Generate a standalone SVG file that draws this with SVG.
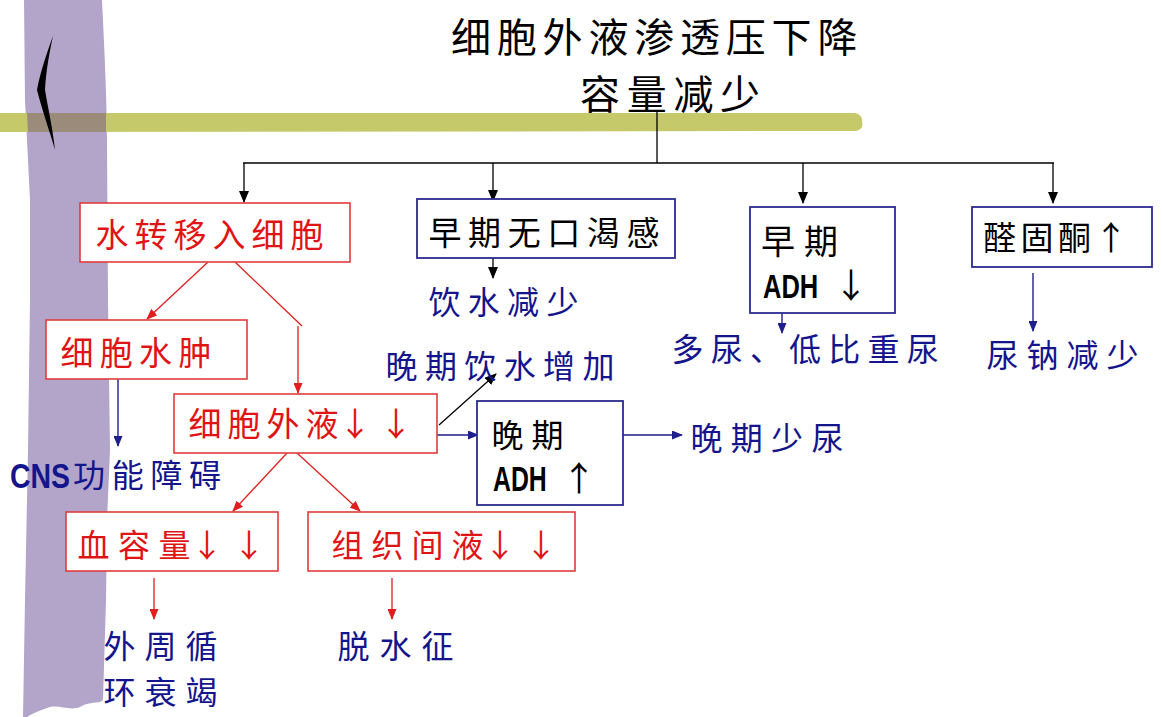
<svg xmlns="http://www.w3.org/2000/svg" width="1162" height="717" viewBox="0 0 1162 717">
<style>
.cjk{font-family:"Noto Sans CJK SC","Noto Sans CJK TC",sans-serif;}
.lat{font-family:"Liberation Sans","Noto Sans",sans-serif;font-weight:bold;}
.arw{font-family:"Noto Sans CJK SC","Noto Sans CJK TC",sans-serif;text-anchor:middle;}
.blk{fill:#000;}
.red{fill:#e01414;}
.nav{fill:#14148c;}
.rbox{fill:#fff;stroke:#e03c3c;stroke-width:1.6;}
.nbox{fill:#fff;stroke:#2b2b8f;stroke-width:1.8;}
.cb{stroke:#000;fill:none;stroke-width:1.3;}
.cr{stroke:#e01e1e;fill:none;stroke-width:1.3;}
.cn{stroke:#1e1e8c;fill:none;stroke-width:1.4;}
</style>
<defs>
<marker id="mb" markerUnits="userSpaceOnUse" markerWidth="12" markerHeight="10" refX="11" refY="5" orient="auto"><path d="M0,0 L12,5 L0,10 z" fill="#000"/></marker>
<marker id="mr" markerUnits="userSpaceOnUse" markerWidth="11" markerHeight="9" refX="10" refY="4.5" orient="auto"><path d="M0,0 L11,4.5 L0,9 z" fill="#e01e1e"/></marker>
<marker id="mn" markerUnits="userSpaceOnUse" markerWidth="11" markerHeight="9" refX="10" refY="4.5" orient="auto"><path d="M0,0 L11,4.5 L0,9 z" fill="#1e1e8c"/></marker>
</defs>

<g id="background">
<path d="M24,0 L102,0 C104,40 107,100 107,140 L108,300 L110,450 L107,520 L106,600 L103,700 L100,702 C90,703 85,704 80,707 C70,711 60,705 50,707 C40,710 32,714 27,717 L23,717 L25,600 L28,450 L30,300 L30,200 L25,100 Z" fill="#b3a4c9"/>
<path d="M0,113 L855,113 C860,114 863,118 862,122 C864,127 860,131 855,131 L0,132 Z" fill="#c6c96a"/>
<path d="M27,113 H106 V132 H28 Z" fill="#9a8b7a"/>
<path d="M53,36 C48,50 40,72 37,90 C42,110 50,132 55,150 C53,130 48,108 45,90 C46,70 50,50 53,36 Z" fill="#000"/>
</g>

<g id="title">
<text class="cjk blk" x="451" y="52" font-size="40" letter-spacing="5.8">细胞外液渗透压下降</text>
<text class="cjk blk" x="580" y="109" font-size="40" letter-spacing="6.7">容量减少</text>
</g>

<g id="connectors">
<path class="cb" d="M657,112 V163"/>
<path class="cb" stroke-width="2" d="M243,163 H1054"/>
<path class="cb" d="M244,163 V202" marker-end="url(#mb)"/>
<path class="cb" d="M493,163 V201" marker-end="url(#mb)"/>
<path class="cb" d="M803,163 V203" marker-end="url(#mb)"/>
<path class="cb" d="M1053,163 V203" marker-end="url(#mb)"/>
<path class="cb" d="M493,258 V278" marker-end="url(#mb)"/>
<path class="cb" d="M439,425 L496,374" marker-end="url(#mb)"/>
<path class="cr" d="M208,262 L147,319" marker-end="url(#mr)"/>
<path class="cr" d="M235,262 L302,326"/>
<path class="cr" d="M298,326 V393" marker-end="url(#mr)"/>
<path class="cr" d="M287,453 L233,511" marker-end="url(#mr)"/>
<path class="cr" d="M297,453 L360,511" marker-end="url(#mr)"/>
<path class="cr" d="M154,578 V619" marker-end="url(#mr)"/>
<path class="cr" d="M392,578 V619" marker-end="url(#mr)"/>
<path class="cn" d="M118,379 V446" marker-end="url(#mn)"/>
<path class="cn" d="M437,435 H478" marker-end="url(#mn)"/>
<path class="cn" d="M623,435 H682" marker-end="url(#mn)"/>
<path class="cn" d="M782,313 V333" marker-end="url(#mn)"/>
<path class="cn" d="M1033,273 V331" marker-end="url(#mn)"/>
</g>

<g id="n-water-into-cell">
<rect class="rbox" x="80" y="203" width="270" height="59"/>
<text class="cjk red" x="95.5" y="247" font-size="33" letter-spacing="6">水转移入细胞</text>
</g>
<g id="n-early-no-thirst">
<rect class="nbox" x="417" y="199" width="258" height="59"/>
<text class="cjk blk" x="428.5" y="245" font-size="33" letter-spacing="6.6">早期无口渴感</text>
</g>
<g id="n-drink-less">
<text class="cjk nav" x="428.5" y="314" font-size="32" letter-spacing="7.3">饮水减少</text>
</g>
<g id="n-early-adh">
<rect class="nbox" x="750" y="207" width="145" height="106"/>
<text class="cjk blk" x="761" y="254" font-size="34" letter-spacing="9">早期</text>
<text class="lat blk" transform="translate(763,298) scale(0.75,1)" font-size="34">ADH</text>
<text class="arw blk" x="851" y="298" font-size="34">↓</text>
</g>
<g id="n-polyuria">
<text class="cjk nav" x="671.5" y="361" font-size="32" letter-spacing="7.2">多尿、低比重尿</text>
</g>
<g id="n-aldosterone">
<rect class="nbox" x="972" y="207" width="180" height="60"/>
<text class="cjk blk" x="983 1020.5 1058" y="250" font-size="33">醛固酮</text>
<text class="arw blk" x="1111" y="250" font-size="33">↑</text>
</g>
<g id="n-urine-na">
<text class="cjk nav" x="986.5" y="367" font-size="32" letter-spacing="8">尿钠减少</text>
</g>
<g id="n-cell-edema">
<rect class="rbox" x="46" y="320" width="201" height="59"/>
<text class="cjk red" x="60.5" y="365" font-size="33" letter-spacing="6.3">细胞水肿</text>
</g>
<g id="n-cns">
<text class="lat nav" transform="translate(10,488) scale(0.79,1)" font-size="36">CNS</text>
<text class="cjk nav" x="73 111.7 150.4 189.1" y="487" font-size="32">功能障碍</text>
</g>
<g id="n-ecf">
<rect class="rbox" x="174" y="394" width="263" height="59"/>
<text class="cjk red" x="188.5 227.5 266.5 305.5" y="436" font-size="33">细胞外液</text>
<text class="arw red" x="355" y="436" font-size="33">↓</text>
<text class="arw red" x="396" y="436" font-size="33">↓</text>
</g>
<g id="n-late-drink">
<text class="cjk nav" x="385.5" y="378" font-size="32" letter-spacing="7.4">晚期饮水增加</text>
</g>
<g id="n-late-adh">
<rect class="nbox" x="477" y="401" width="146" height="104"/>
<text class="cjk blk" x="491.5" y="447" font-size="32" letter-spacing="8">晚期</text>
<text class="lat blk" transform="translate(493,491) scale(0.69,1)" font-size="36">ADH</text>
<text class="arw blk" x="579" y="491" font-size="34">↑</text>
</g>
<g id="n-late-oliguria">
<text class="cjk nav" x="690.5" y="450" font-size="32" letter-spacing="8.3">晚期少尿</text>
</g>
<g id="n-blood-volume">
<rect class="rbox" x="66" y="512" width="212" height="59"/>
<text class="cjk red" x="77.5 118 158.5" y="557" font-size="32">血容量</text>
<text class="arw red" x="207" y="557" font-size="32">↓</text>
<text class="arw red" x="249" y="557" font-size="32">↓</text>
</g>
<g id="n-interstitial">
<rect class="rbox" x="308" y="512" width="267" height="59"/>
<text class="cjk red" x="331.5 371.5 411.5 451.5" y="557" font-size="32">组织间液</text>
<text class="arw red" x="500" y="557" font-size="32">↓</text>
<text class="arw red" x="541" y="557" font-size="32">↓</text>
</g>
<g id="n-circ-failure">
<text class="cjk nav" x="103.5" y="658" font-size="32" letter-spacing="9">外周循</text>
<text class="cjk nav" x="103.5" y="704" font-size="32" letter-spacing="9">环衰竭</text>
</g>
<g id="n-dehydration">
<text class="cjk nav" x="337.5" y="658" font-size="32" letter-spacing="10">脱水征</text>
</g>
</svg>
